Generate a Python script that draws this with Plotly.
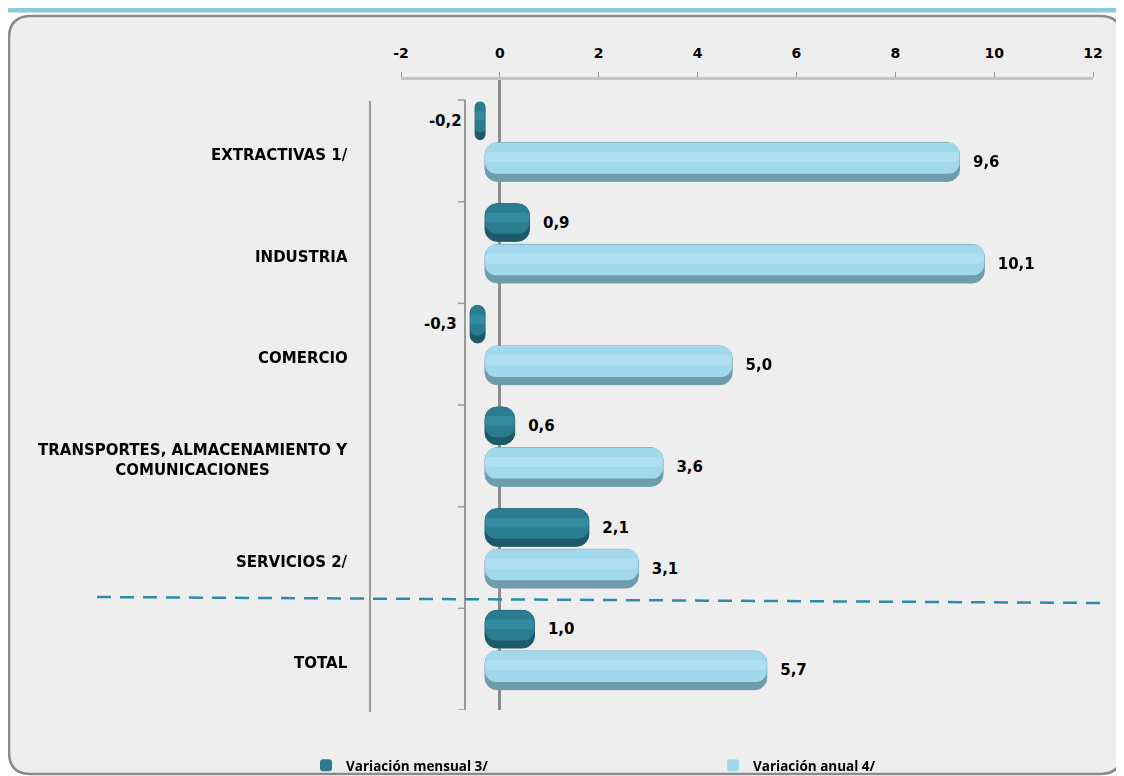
import plotly.graph_objects as go

# ---------------- data ----------------
categories = ["EXTRACTIVAS 1/", "INDUSTRIA", "COMERCIO",
              "TRANSPORTES, ALMACENAMIENTO Y<br>COMUNICACIONES",
              "SERVICIOS 2/", "TOTAL"]
mensual = [-0.2, 0.9, -0.3, 0.6, 2.1, 1.0]
anual = [9.6, 10.1, 5.0, 3.6, 3.1, 5.7]
x_ticks = [-2, 0, 2, 4, 6, 8, 10, 12]
series_names = ["Variación mensual 3/", "Variación anual 4/"]

# ---------------- geometry helpers (page coordinates) ----------------
OFF = 8                      # default body margin of the html page
W, H = 1124 - OFF, 776 - OFF  # figure size
L, R, T, B = 401, 1093, 80, 710  # plot area in page coordinates
DEPTH = -0.3                 # 3-D projection shift of the bars (front face)


def px(x):
    return (x - L) / (R - L)


def py(y):
    return (B - y) / (B - T)


def fmt(v):
    s = f"{v:.1f}".replace(".", ",")
    return s + "\u00a0\u00a0" if v < 0 else "\u00a0\u00a0" + s


FONT = "DejaVu Sans"
LFONT = "Open Sans"
fig = go.Figure()

specs = [
    # values, name, legend, offset, width, dark, main, light
    (mensual, series_names[0], "legend", -0.48, 0.37, "#1c5a69", "#2b7c8f", "#45a0b4"),
    (anual, series_names[1], "legend2", -0.08, 0.38, "#6e9cad", "#a2d8ec", "#c4ebf9"),
]
for vals, name, leg, off, wd, dark, main, light in specs:
    fig.add_trace(go.Bar(
        y=categories, x=vals, base=DEPTH, orientation="h", name=name,
        offset=off, width=wd,
        marker=dict(color=dark, line=dict(color=dark, width=1), cornerradius=12),
        text=[fmt(v) for v in vals], textposition="outside",
        textfont=dict(family=FONT, size=15, color="black", weight="bold"),
        cliponaxis=False, showlegend=False, hoverinfo="skip",
    ))
    fig.add_trace(go.Bar(
        y=categories, x=vals, base=DEPTH, orientation="h", name=name, legend=leg,
        offset=off, width=wd * 0.8,
        marker=dict(color=main, line=dict(width=0), cornerradius=11),
        showlegend=True, hoverinfo="skip",
    ))
    fig.add_trace(go.Bar(
        y=categories, x=vals, base=DEPTH, orientation="h", name=name,
        offset=off + wd * 0.24, width=wd * 0.26,
        marker=dict(color=light, line=dict(width=0), cornerradius=5),
        opacity=0.4, showlegend=False, hoverinfo="skip",
    ))

# ---------------- shapes ----------------
shapes = []

# rounded frame
x0, y0, x1, y1, r = 9, 16, 1122, 774, 22
pts = [
    ("M", (x0 + r, y0)), ("L", (x1 - r, y0)), ("Q", (x1, y0), (x1, y0 + r)),
    ("L", (x1, y1 - r)), ("Q", (x1, y1), (x1 - r, y1)),
    ("L", (x0 + r, y1)), ("Q", (x0, y1), (x0, y1 - r)),
    ("L", (x0, y0 + r)), ("Q", (x0, y0), (x0 + r, y0)),
]
path = ""
for item in pts:
    coords = " ".join(f"{px(a):.5f},{py(b):.5f}" for a, b in item[1:])
    path += f"{item[0]} {coords} "
path += "Z"
shapes.append(dict(type="path", path=path, xref="paper", yref="paper",
                   fillcolor="#eeeeee", line=dict(color="#8a8a8a", width=2.5),
                   layer="below"))

# top band
shapes.append(dict(type="rect", xref="paper", yref="paper",
                   x0=px(OFF), x1=px(1124), y0=py(OFF), y1=py(12.5),
                   fillcolor="#8fc9dc", line=dict(width=0), layer="below"))

# grey separator line left of plot
shapes.append(dict(type="line", xref="paper", yref="paper",
                   x0=px(370), x1=px(370), y0=py(101), y1=py(712),
                   line=dict(color="#9a9a9a", width=2), layer="below"))

# category axis line with ticks
shapes.append(dict(type="line", xref="paper", yref="y",
                   x0=px(465), x1=px(465), y0=-0.5, y1=len(categories) - 0.5,
                   line=dict(color="#9a9a9a", width=2), layer="below"))
for k in range(len(categories) + 1):
    shapes.append(dict(type="line", xref="paper", yref="y",
                       x0=px(458), x1=px(465), y0=k - 0.5, y1=k - 0.5,
                       line=dict(color="#9a9a9a", width=1.5), layer="below"))

# dashed separator before TOTAL
shapes.append(dict(type="line", xref="paper", yref="paper",
                   x0=px(97), x1=px(1105), y0=py(597), y1=py(603),
                   line=dict(color="#2e8ba3", width=2.5, dash="14px,9px"),
                   layer="above"))

# ---------------- category labels ----------------
annotations = []
for c in categories:
    annotations.append(dict(
        x=px(350), xref="paper", y=c, yref="y", yshift=-4,
        text=c, showarrow=False, xanchor="right", yanchor="middle",
        align="center",
        font=dict(family=FONT, size=15, color="black", weight="bold"),
    ))

legend_common = dict(orientation="h", xanchor="left", yanchor="top",
                     bgcolor="rgba(0,0,0,0)", itemwidth=30,
                     font=dict(family=LFONT, size=13.5, color="black", weight="bold"))

fig.update_layout(
    width=W, height=H,
    margin=dict(l=L - OFF, r=W - (R - OFF), t=T - OFF, b=H - (B - OFF),
                pad=0, autoexpand=False),
    paper_bgcolor="white", plot_bgcolor="rgba(0,0,0,0)",
    barmode="overlay", separators=",.",
    shapes=shapes, annotations=annotations,
    legend=dict(x=px(306), y=py(750), **legend_common),
    legend2=dict(x=px(713), y=py(750), **legend_common),
    xaxis=dict(side="top", range=[-2, 12], tickvals=x_ticks,
               ticktext=[str(t) for t in x_ticks],
               showline=True, linecolor="#c4c4c4", linewidth=3,
               ticks="outside", ticklen=5, tickcolor="#999999", tickwidth=1,
               showgrid=False, zeroline=True, zerolinecolor="#8c8c8c",
               zerolinewidth=2.5, ticklabelstandoff=8,
               tickfont=dict(family=FONT, size=14, color="black", weight="bold")),
    yaxis=dict(type="category", categoryorder="array", categoryarray=categories,
               range=[len(categories) - 0.5, -0.697],
               showline=False, showticklabels=False, ticks="",
               showgrid=False, zeroline=False),
)

fig.write_html("out.html")
